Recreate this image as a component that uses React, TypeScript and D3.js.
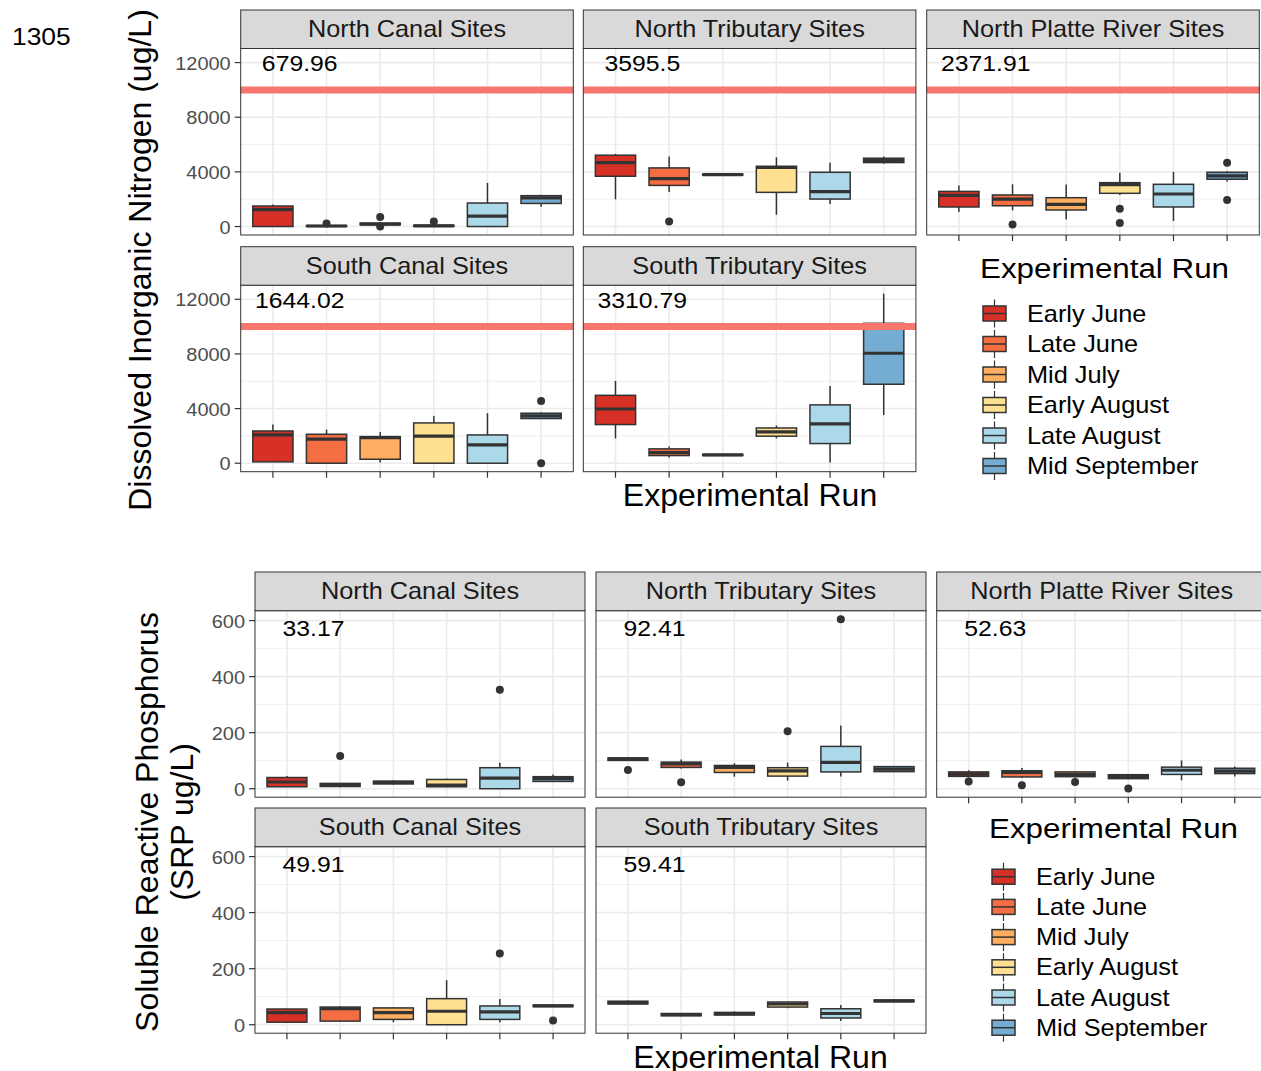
import React from "react";
import * as d3 from "d3";

// experimental runs (fill legend)
const runs = ["Early June", "Late June", "Mid July", "Early August", "Late August", "Mid September"];
const runColors = ["#d73027", "#f46d43", "#fdae61", "#fee090", "#abd9e9", "#74add1"];
const sites = ["North Canal Sites", "North Tributary Sites", "North Platte River Sites", "South Canal Sites", "South Tributary Sites"];

// DIN boxes: [lower whisker, q1, median, q3, upper whisker] per run
const dinNorthCanal = [[0, 0, 1230, 1500, 1620], [0, 10, 40, 70, 100], [90, 130, 180, 250, 300], [0, 20, 50, 90, 120], [0, 0, 760, 1720, 3190], [1450, 1690, 2090, 2260, 2330]];
const dinNorthTrib = [[1990, 3680, 4680, 5220, 5320], [2530, 3010, 3500, 4290, 5120], [3750, 3770, 3800, 3830, 3850], [860, 2500, 4320, 4410, 5070], [1650, 2010, 2550, 3970, 4660], [4600, 4680, 4830, 5000, 5120]];
const dinNorthPlatte = [[1060, 1430, 2280, 2570, 3010], [1180, 1520, 2010, 2310, 3090], [520, 1210, 1620, 2110, 3070], [2300, 2430, 3070, 3210, 3930], [400, 1430, 2380, 3090, 4000], [3300, 3460, 3710, 3970, 4050]];
const dinSouthCanal = [[100, 100, 2070, 2360, 2830], [0, 0, 1760, 2120, 2460], [50, 290, 1880, 1950, 2290], [0, 0, 1980, 2950, 3460], [0, 0, 1340, 2070, 3660], [3250, 3270, 3460, 3660, 3720]];
const dinSouthTrib = [[1810, 2830, 3970, 4970, 6020], [420, 560, 780, 1050, 1220], [550, 570, 610, 640, 660], [1810, 1980, 2290, 2580, 2760], [50, 1440, 2880, 4270, 5650], [3530, 5780, 8050, 10240, 12410]];
// outliers: [run index, value]
const dinNorthCanalOut = [[1, 220], [2, 690], [2, 0], [3, 370]];
const dinNorthTribOut = [[1, 370]];
const dinNorthPlatteOut = [[1, 150], [3, 1300], [3, 250], [5, 4660], [5, 1940]];
const dinSouthCanalOut = [[5, 4560], [5, 0]];
const dinSouthTribOut: number[][] = [];
const dinLabels = ["679.96", "3595.5", "2371.91", "1644.02", "3310.79"];
const dinTicks = [0, 4000, 8000, 12000];
const dinLimit = 10000;

// SRP boxes
const srpNorthCanal = [[7, 7, 24, 40, 45], [5, 8, 14, 19, 20], [14, 17, 23, 27, 30], [5, 7, 13, 33, 36], [0, 0, 38, 75, 93], [24, 26, 36, 43, 51]];
const srpNorthTrib = [[100, 101, 106, 110, 112], [72, 76, 89, 95, 104], [43, 58, 76, 83, 91], [29, 45, 64, 75, 93], [44, 60, 94, 151, 226], [60, 61, 70, 79, 80]];
const srpNorthPlatte = [[40, 44, 52, 60, 66], [38, 42, 58, 64, 74], [40, 43, 51, 60, 63], [34, 36, 44, 50, 52], [30, 51, 66, 77, 101], [44, 54, 63, 73, 79]];
const srpSouthCanal = [[9, 9, 43, 56, 57], [10, 13, 57, 63, 67], [9, 19, 43, 60, 62], [0, 0, 48, 93, 159], [9, 19, 46, 67, 92], [64, 65, 67, 70, 71]];
const srpSouthTrib = [[72, 74, 79, 84, 86], [30, 32, 36, 40, 42], [33, 35, 39, 44, 47], [59, 63, 74, 81, 83], [13, 24, 40, 57, 70], [80, 82, 85, 88, 90]];
const srpNorthCanalOut = [[1, 117], [4, 353]];
const srpNorthTribOut = [[0, 67], [1, 23], [3, 205], [4, 605]];
const srpNorthPlatteOut = [[0, 26], [1, 12], [2, 24], [3, 1]];
const srpSouthCanalOut = [[4, 254], [5, 15]];
const srpSouthTribOut: number[][] = [];
const srpLabels = ["33.17", "92.41", "52.63", "49.91", "59.41"];
const srpTicks = [0, 200, 400, 600];

const FONT = "'Liberation Sans', Arial, sans-serif";
const SX = 1.1; // the reference is a little wider than tall

function T({ x, y, size, anchor = "start", fill = "#000", sx = SX, children }: any) {
  return (
    <text transform={`translate(${x},${y}) scale(${sx},1)`} fontSize={size} textAnchor={anchor} fill={fill} fontFamily={FONT}>
      {children}
    </text>
  );
}

function Figure({ boxes, outs, labels, ticks, labelY, limit, cols, rows, pw, stripH, ph }: any) {
  const all: number[] = [];
  boxes.forEach((b: number[][]) => b.forEach((s) => all.push(s[0], s[4])));
  outs.forEach((o: number[][]) => o.forEach((p) => all.push(p[1])));
  const lo = d3.min(all)!, hi = d3.max(all)!;
  const pad = (hi - lo) * 0.05;
  const step = ticks[1] - ticks[0];
  const minor = ticks.slice(0, -1).map((t: number) => t + step / 2);

  return (
    <g>
      {sites.map((site, k) => {
        const left = cols[k % 3];
        const top = rows[Math.floor(k / 3)];
        const pTop = top + stripH;
        const pBot = pTop + ph;
        const x = d3.scalePoint<string>().domain(runs).range([left, left + pw]).padding(0.6);
        const y = d3.scaleLinear().domain([lo - pad, hi + pad]).range([pBot, pTop]);
        const bw = x.step() * 0.75;
        const showX = k >= 2;
        return (
          <g key={site}>
            <rect x={left} y={pTop} width={pw} height={ph} fill="#fff" />
            {minor.map((t: number) => (
              <line key={"m" + t} x1={left} x2={left + pw} y1={y(t)} y2={y(t)} stroke="#ebebeb" strokeWidth={0.8} />
            ))}
            {ticks.map((t: number) => (
              <line key={"g" + t} x1={left} x2={left + pw} y1={y(t)} y2={y(t)} stroke="#ebebeb" strokeWidth={1.6} />
            ))}
            {runs.map((r) => (
              <line key={"v" + r} x1={x(r)} x2={x(r)} y1={pTop} y2={pBot} stroke="#ebebeb" strokeWidth={1.6} />
            ))}
            {boxes[k].map((s: number[], i: number) => {
              const cx = x(runs[i])!;
              return (
                <g key={i}>
                  <line x1={cx} x2={cx} y1={y(s[0])} y2={y(s[1])} stroke="#333" strokeWidth={1.5} />
                  <line x1={cx} x2={cx} y1={y(s[3])} y2={y(s[4])} stroke="#333" strokeWidth={1.5} />
                  <rect x={cx - bw / 2} y={y(s[3])} width={bw} height={Math.max(0.5, y(s[1]) - y(s[3]))} fill={runColors[i]} stroke="#333" strokeWidth={1.5} />
                  <line x1={cx - bw / 2} x2={cx + bw / 2} y1={y(s[2])} y2={y(s[2])} stroke="#333" strokeWidth={3.2} />
                </g>
              );
            })}
            {outs[k].map((p: number[], j: number) => (
              <circle key={"o" + j} cx={x(runs[p[0]])} cy={y(p[1])} r={4} fill="#333" />
            ))}
            {limit != null && (
              <line x1={left} x2={left + pw} y1={y(limit)} y2={y(limit)} stroke="#F8766D" strokeWidth={7} />
            )}
            <T x={(x(runs[0])! + x(runs[1])!) / 2} y={y(labelY) + 8.5} size={22.5} anchor="middle">{labels[k]}</T>
            <rect x={left} y={pTop} width={pw} height={ph} fill="none" stroke="#333" strokeWidth={1} />
            <rect x={left} y={top} width={pw} height={stripH} fill="#d9d9d9" stroke="#333" strokeWidth={1} />
            <T x={left + pw / 2} y={top + stripH / 2 + 8} size={23} anchor="middle" fill="#1a1a1a">{site}</T>
            {k % 3 === 0 &&
              ticks.map((t: number) => (
                <g key={"yt" + t}>
                  <line x1={left - 6} x2={left} y1={y(t)} y2={y(t)} stroke="#333" strokeWidth={1.2} />
                  <T x={left - 10} y={y(t) + 7} size={19} sx={1.05} anchor="end" fill="#4d4d4d">{t}</T>
                </g>
              ))}
            {showX &&
              runs.map((r) => (
                <line key={"xt" + r} x1={x(r)} x2={x(r)} y1={pBot} y2={pBot + 6} stroke="#333" strokeWidth={1.2} />
              ))}
          </g>
        );
      })}
    </g>
  );
}

function Legend({ x, y, rowY, gap, keyW }: any) {
  return (
    <g>
      <T x={x} y={y} size={28.5}>Experimental Run</T>
      {runs.map((r, i) => {
        const cy = rowY + i * gap;
        const kx = x + 3;
        return (
          <g key={r}>
            <line x1={kx + keyW / 2} x2={kx + keyW / 2} y1={cy - 14} y2={cy + 14} stroke="#333" strokeWidth={1.2} />
            <rect x={kx} y={cy - 7.5} width={keyW} height={15} fill={runColors[i]} stroke="#333" strokeWidth={1.5} />
            <line x1={kx} x2={kx + keyW} y1={cy} y2={cy} stroke="#333" strokeWidth={1.5} />
            <T x={x + 47} y={cy + 8} size={23}>{r}</T>
          </g>
        );
      })}
    </g>
  );
}

export default function App() {
  const dinBoxes = [dinNorthCanal, dinNorthTrib, dinNorthPlatte, dinSouthCanal, dinSouthTrib];
  const dinOuts = [dinNorthCanalOut, dinNorthTribOut, dinNorthPlatteOut, dinSouthCanalOut, dinSouthTribOut];
  const srpBoxes = [srpNorthCanal, srpNorthTrib, srpNorthPlatte, srpSouthCanal, srpSouthTrib];
  const srpOuts = [srpNorthCanalOut, srpNorthTribOut, srpNorthPlatteOut, srpSouthCanalOut, srpSouthTribOut];

  return (
    <svg width={1261} height={1071} style={{ position: "absolute", left: 0, top: 0, background: "#fff" }}>
      <rect width={1261} height={1071} fill="#fff" />
      <T x={12} y={45} size={24}>1305</T>

      <Figure boxes={dinBoxes} outs={dinOuts} labels={dinLabels} ticks={dinTicks} labelY={12000} limit={dinLimit}
        cols={[240.7, 583.3, 926.7]} rows={[10, 246.7]} pw={332.6} stripH={38.5} ph={186.5} />
      <text transform="translate(151,260) rotate(-90)" fontSize={32} textAnchor="middle" fontFamily={FONT}>Dissolved Inorganic Nitrogen (ug/L)</text>
      <text x={750} y={506} fontSize={32} textAnchor="middle" fontFamily={FONT}>Experimental Run</text>
      <Legend x={980} y={278} rowY={313.5} gap={30.5} keyW={23} />

      <Figure boxes={srpBoxes} outs={srpOuts} labels={srpLabels} ticks={srpTicks} labelY={575} limit={null}
        cols={[255, 596, 936.7]} rows={[572, 808]} pw={330} stripH={38.7} ph={186.5} />
      <text transform="translate(158,822) rotate(-90)" fontSize={32} textAnchor="middle" fontFamily={FONT}>Soluble Reactive Phosphorus</text>
      <text transform="translate(193,822) rotate(-90)" fontSize={32} textAnchor="middle" fontFamily={FONT}>(SRP ug/L)</text>
      <text x={760.5} y={1068} fontSize={32} textAnchor="middle" fontFamily={FONT}>Experimental Run</text>
      <Legend x={989} y={838} rowY={876.7} gap={30.2} keyW={23} />
    </svg>
  );
}
